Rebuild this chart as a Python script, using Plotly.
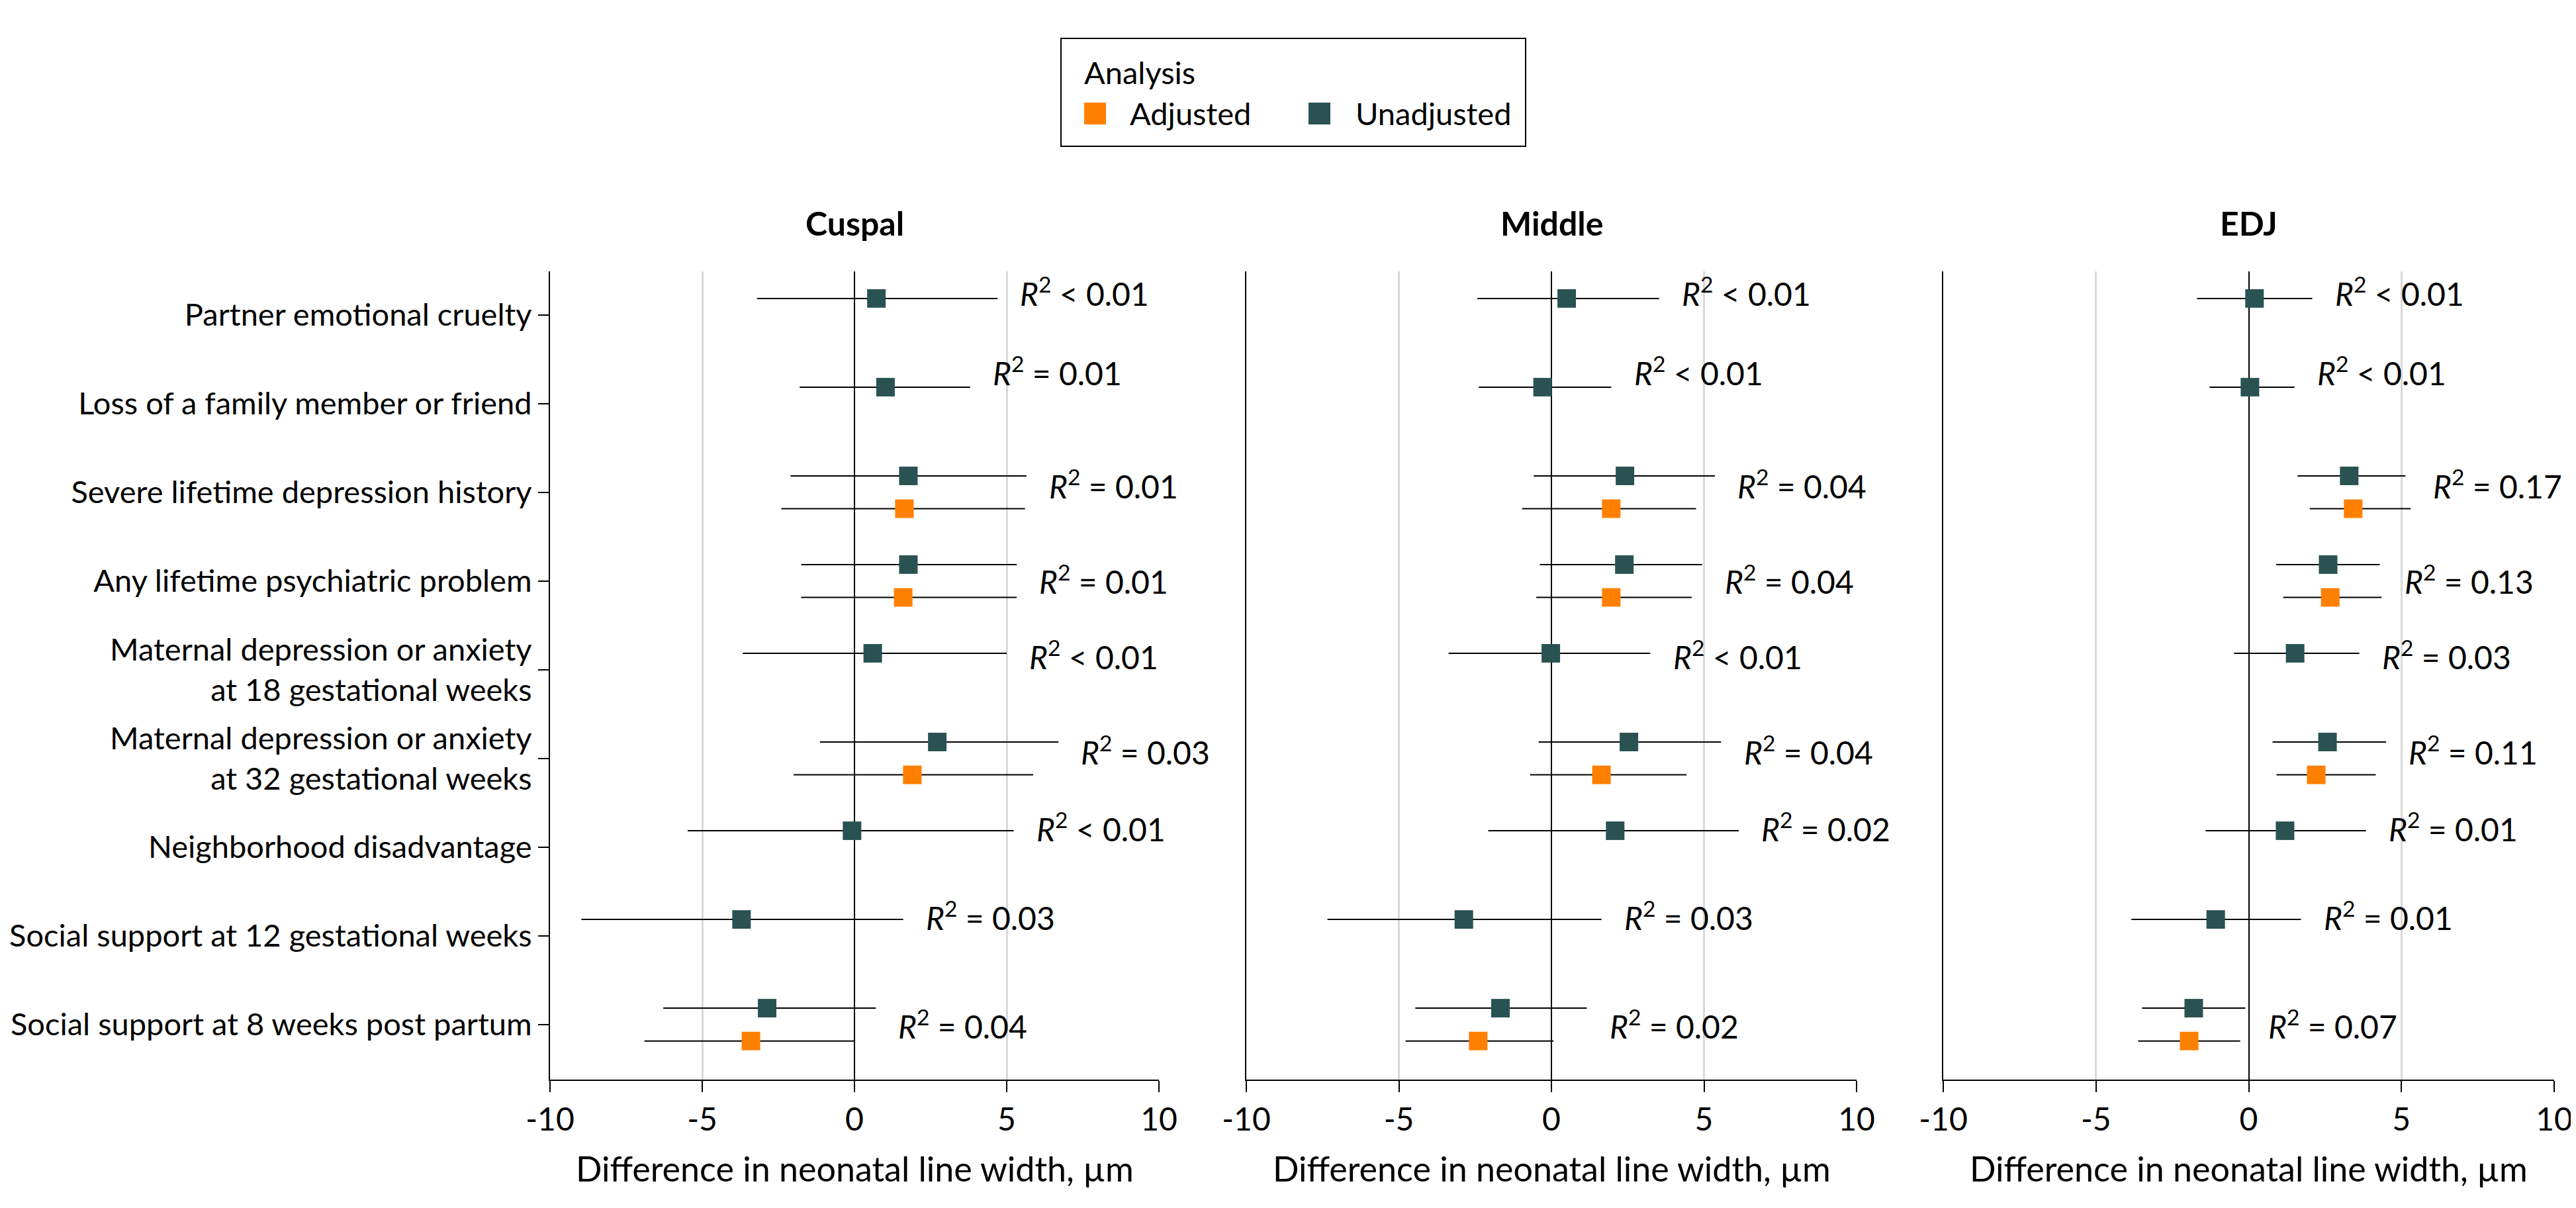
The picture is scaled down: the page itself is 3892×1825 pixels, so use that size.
import plotly.graph_objects as go

# ---------------- data ----------------
categories = [
    "Partner emotional cruelty",
    "Loss of a family member or friend",
    "Severe lifetime depression history",
    "Any lifetime psychiatric problem",
    "Maternal depression or anxiety<br>at 18 gestational weeks",
    "Maternal depression or anxiety<br>at 32 gestational weeks",
    "Neighborhood disadvantage",
    "Social support at 12 gestational weeks",
    "Social support at 8 weeks post partum",
]
panel_titles = ["Cuspal", "Middle", "EDJ"]
x_tick_values = [-10, -5, 0, 5, 10]
x_tick_labels = ["-10", "-5", "0", "5", "10"]
x_axis_title = "Difference in neonatal line width, \u00b5m"

# Cuspal
cuspal_unadj_est = [0.72, 1.02, 1.77, 1.77, 0.60, 2.72, -0.08, -3.71, -2.87]
cuspal_unadj_lo = [-3.20, -1.80, -2.10, -1.75, -3.67, -1.13, -5.48, -8.97, -6.28]
cuspal_unadj_hi = [4.70, 3.80, 5.65, 5.33, 5.00, 6.70, 5.23, 1.60, 0.70]
cuspal_adj_est = [None, None, 1.64, 1.60, None, 1.90, None, None, -3.40]
cuspal_adj_lo = [None, None, -2.40, -1.75, None, -2.00, None, None, -6.90]
cuspal_adj_hi = [None, None, 5.60, 5.33, None, 5.87, None, None, 0.00]
cuspal_r2 = ["< 0.01", "= 0.01", "= 0.01", "= 0.01", "< 0.01", "= 0.03", "< 0.01", "= 0.03", "= 0.04"]

# Middle
middle_unadj_est = [0.50, -0.29, 2.41, 2.39, -0.02, 2.54, 2.09, -2.87, -1.67]
middle_unadj_lo = [-2.43, -2.38, -0.58, -0.38, -3.37, -0.42, -2.07, -7.34, -4.46]
middle_unadj_hi = [3.53, 1.96, 5.36, 4.94, 3.24, 5.56, 6.14, 1.64, 1.16]
middle_adj_est = [None, None, 1.96, 1.96, None, 1.64, None, None, -2.40]
middle_adj_lo = [None, None, -0.96, -0.50, None, -0.70, None, None, -4.78]
middle_adj_hi = [None, None, 4.74, 4.60, None, 4.43, None, None, 0.07]
middle_r2 = ["< 0.01", "< 0.01", "= 0.04", "= 0.04", "< 0.01", "= 0.04", "= 0.02", "= 0.03", "= 0.02"]

# EDJ
edj_unadj_est = [0.19, 0.04, 3.29, 2.60, 1.52, 2.58, 1.19, -1.08, -1.80]
edj_unadj_lo = [-1.69, -1.28, 1.60, 0.90, -0.48, 0.78, -1.41, -3.84, -3.49]
edj_unadj_hi = [2.08, 1.50, 5.13, 4.29, 3.62, 4.50, 3.84, 1.71, -0.11]
edj_adj_est = [None, None, 3.42, 2.67, None, 2.21, None, None, -1.95]
edj_adj_lo = [None, None, 2.00, 1.13, None, 0.91, None, None, -3.62]
edj_adj_hi = [None, None, 5.30, 4.35, None, 4.16, None, None, -0.28]
edj_r2 = ["< 0.01", "< 0.01", "= 0.17", "= 0.13", "= 0.03", "= 0.11", "= 0.01", "= 0.01", "= 0.07"]

panels = [
    (cuspal_unadj_est, cuspal_unadj_lo, cuspal_unadj_hi, cuspal_adj_est, cuspal_adj_lo, cuspal_adj_hi, cuspal_r2),
    (middle_unadj_est, middle_unadj_lo, middle_unadj_hi, middle_adj_est, middle_adj_lo, middle_adj_hi, middle_r2),
    (edj_unadj_est, edj_unadj_lo, edj_unadj_hi, edj_adj_est, edj_adj_lo, edj_adj_hi, edj_r2),
]

# ---------------- style / layout ----------------
W, H = 3892, 1825
FONT = "Lato, 'Liberation Sans', Arial, sans-serif"
FS = 47
COL_ADJ = "#FF8000"
COL_UNADJ = "#2A5252"
GRID = "#D9D9D9"
x_domains = [(823, 1743), (1875, 2797), (2928, 3851)]
y_top_px, y_bot_px = 402, 1623
y_range = [8.62, -0.49]
row_shift = 0.185
label_dy = [-0.26, -0.37, -0.09, -0.02, -0.17, -0.09, -0.23, -0.23, 0.0]
label_gap = 0.7


def px_x(p):
    return p / W


def px_y(p):
    return (H - p) / H


fig = go.Figure()
annotations = []

for k, (ue, ul, uh, ae, al, ah, r2) in enumerate(panels):
    xa = "x" if k == 0 else f"x{k + 1}"
    ya = "y" if k == 0 else f"y{k + 1}"
    # unadjusted
    idx = [i for i, v in enumerate(ue) if v is not None]
    fig.add_trace(go.Scatter(
        x=[ue[i] for i in idx],
        y=[i - row_shift for i in idx],
        mode="markers",
        marker=dict(symbol="square", size=28, color=COL_UNADJ),
        error_x=dict(type="data", symmetric=False,
                     array=[uh[i] - ue[i] for i in idx],
                     arrayminus=[ue[i] - ul[i] for i in idx],
                     color="black", thickness=2, width=0),
        name="Unadjusted", showlegend=False, xaxis=xa, yaxis=ya,
    ))
    # adjusted
    idx = [i for i, v in enumerate(ae) if v is not None]
    fig.add_trace(go.Scatter(
        x=[ae[i] for i in idx],
        y=[i + row_shift for i in idx],
        mode="markers",
        marker=dict(symbol="square", size=28, color=COL_ADJ),
        error_x=dict(type="data", symmetric=False,
                     array=[ah[i] - ae[i] for i in idx],
                     arrayminus=[ae[i] - al[i] for i in idx],
                     color="black", thickness=2, width=0),
        name="Adjusted", showlegend=False, xaxis=xa, yaxis=ya,
    ))
    # R^2 labels
    for i, txt in enumerate(r2):
        hi = max(v for v in (uh[i], ah[i]) if v is not None)
        annotations.append(dict(
            x=hi + label_gap, y=i + label_dy[i], xref=xa, yref=ya,
            text=f"<i>R</i><sup>2</sup> {txt}", showarrow=False,
            xanchor="left", yanchor="middle",
            font=dict(family=FONT, size=48, color="black"),
        ))
    # panel title
    d0, d1 = x_domains[k]
    annotations.append(dict(
        x=px_x((d0 + d1) / 2), y=px_y(329), xref="paper", yref="paper",
        text=f"<b>{panel_titles[k]}</b>", showarrow=False,
        xanchor="center", yanchor="middle",
        font=dict(family=FONT, size=50, color="black"),
    ))
    # axis title
    annotations.append(dict(
        x=px_x((d0 + d1) / 2), y=px_y(1757), xref="paper", yref="paper",
        text=x_axis_title, showarrow=False,
        xanchor="center", yanchor="middle",
        font=dict(family=FONT, size=52, color="black"),
    ))

    xaxis = dict(
        domain=[px_x(d0), px_x(d1)], anchor=ya, range=[-10, 10],
        tickvals=x_tick_values, ticktext=x_tick_labels,
        showgrid=True, gridcolor=GRID, gridwidth=3,
        zeroline=True, zerolinecolor="black", zerolinewidth=2,
        showline=True, linecolor="black", linewidth=2,
        ticks="outside", ticklen=17, tickwidth=2, tickcolor="black",
        tickfont=dict(family=FONT, size=48, color="black"),
        fixedrange=True, automargin=False,
    )
    yaxis = dict(
        domain=[px_y(y_bot_px), px_y(y_top_px)], anchor=xa, range=y_range,
        showgrid=False, zeroline=False,
        showline=True, linecolor="black", linewidth=2,
        fixedrange=True, automargin=False,
    )
    if k == 0:
        yaxis.update(tickvals=list(range(len(categories))), ticktext=categories,
                     ticks="outside", ticklen=16, tickwidth=2, tickcolor="black",
                     tickfont=dict(family=FONT, size=FS, color="black"))
    else:
        yaxis.update(showticklabels=False, ticks="")
    fig.update_layout(**{("xaxis" if k == 0 else f"xaxis{k + 1}"): xaxis,
                         ("yaxis" if k == 0 else f"yaxis{k + 1}"): yaxis})

# ---------------- manual legend ----------------
shapes = [
    dict(type="rect", xref="paper", yref="paper",
         x0=px_x(1595), x1=px_x(2297), y0=px_y(213), y1=px_y(50),
         line=dict(color="black", width=2), fillcolor="white"),
    dict(type="rect", xref="paper", yref="paper",
         x0=px_x(1630), x1=px_x(1663), y0=px_y(180), y1=px_y(147),
         line=dict(width=0), fillcolor=COL_ADJ),
    dict(type="rect", xref="paper", yref="paper",
         x0=px_x(1969), x1=px_x(2002), y0=px_y(180), y1=px_y(147),
         line=dict(width=0), fillcolor=COL_UNADJ),
]
annotations += [
    dict(x=px_x(1628), y=px_y(101), xref="paper", yref="paper", text="Analysis",
         showarrow=False, xanchor="left", yanchor="middle",
         font=dict(family=FONT, size=FS, color="black")),
    dict(x=px_x(1697), y=px_y(163), xref="paper", yref="paper", text="Adjusted",
         showarrow=False, xanchor="left", yanchor="middle",
         font=dict(family=FONT, size=FS, color="black")),
    dict(x=px_x(2038), y=px_y(163), xref="paper", yref="paper", text="Unadjusted",
         showarrow=False, xanchor="left", yanchor="middle",
         font=dict(family=FONT, size=FS, color="black")),
]

fig.update_layout(
    width=W, height=H,
    margin=dict(l=0, r=0, t=0, b=0),
    paper_bgcolor="white", plot_bgcolor="white",
    showlegend=False,
    shapes=shapes, annotations=annotations,
    font=dict(family=FONT, size=FS, color="black"),
)

fig.write_html("out.html")
